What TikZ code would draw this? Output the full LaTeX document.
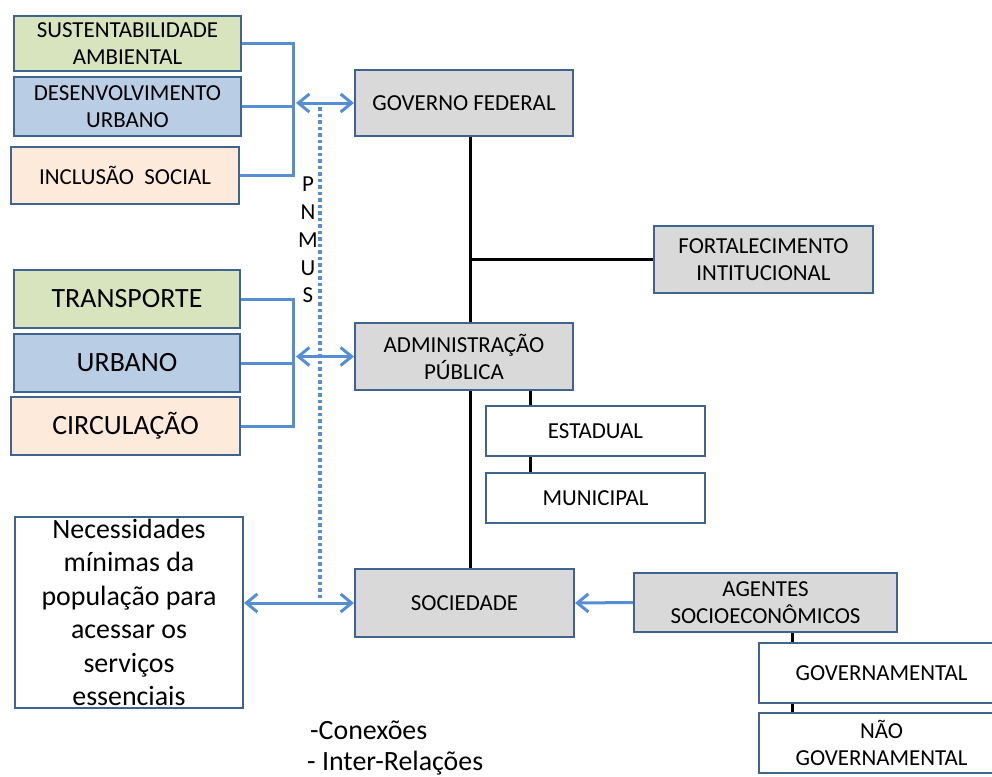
\documentclass[tikz,border=0pt]{standalone}
\usepackage{fontspec}
\setmainfont{Carlito}
\usetikzlibrary{arrows.meta}
\definecolor{edge}{HTML}{3F6491}
\definecolor{lnk}{HTML}{558ED5}
\definecolor{fgreen}{HTML}{D7E4BD}
\definecolor{fblue}{HTML}{B9CDE5}
\definecolor{fpeach}{HTML}{FDEADA}
\definecolor{fgray}{HTML}{D9D9D9}
\newcommand{\smtxt}{\fontsize{22.9}{27}\selectfont}
\newcommand{\lgtxt}{\fontsize{27.9}{33.5}\selectfont}
\newcommand{\axistxt}{\fontsize{22.9}{27.8}\selectfont}
\tikzset{
  box/.style={draw=edge, line width=2pt, inner sep=2pt, align=center, font=\smtxt},
  greenbox/.style={box, fill=fgreen},
  bluebox/.style={box, fill=fblue},
  peachbox/.style={box, fill=fpeach},
  graybox/.style={box, fill=fgray},
  whitebox/.style={box, fill=white},
  link/.style={draw=lnk, line width=3pt},
  twoway/.style={link, {Straight Barb[length=11pt, width=18pt]}-{Straight Barb[length=11pt, width=18pt]}},
  oneway/.style={link, -{Straight Barb[length=11pt, width=18pt]}},
  dots/.style={draw=lnk, line width=3.5pt, dash pattern=on 3.5pt off 3pt},
  trunk/.style={draw=black, line width=3pt},
}
\begin{document}
\begin{tikzpicture}[x=1pt, y=-1pt]
  \useasboundingbox (0,0) rectangle (992,776);
  \begin{scope}
  \clip (0,0) rectangle (992,776);

  % policy themes
  \node[greenbox, minimum width=227pt, minimum height=55pt] (sus) at (127.5,43.5) {SUSTENTABILIDADE\\AMBIENTAL};
  \node[bluebox, minimum width=227pt, minimum height=59pt] (des) at (127.5,106.5) {DESENVOLVIMENTO\\URBANO};
  \node[peachbox, minimum width=228pt, minimum height=57pt] (inc) at (125,175.5) {INCLUSÃO~ SOCIAL};

  % mobility themes
  \node[greenbox, minimum width=226pt, minimum height=58pt, font=\lgtxt] (tra) at (127,299) {TRANSPORTE};
  \node[bluebox, minimum width=226pt, minimum height=58pt, font=\lgtxt] (urb) at (127,363) {URBANO};
  \node[peachbox, minimum width=229pt, minimum height=58pt, font=\lgtxt] (cir) at (125.5,426) {CIRCULAÇÃO};

  % population needs
  \node[whitebox, minimum width=228pt, minimum height=189pt, font=\lgtxt] (nec) at (129,612.5)
    {Necessidades\\mínimas da\\população para\\acessar os\\serviços\\essenciais};

  % central column
  \node[graybox, minimum width=218pt, minimum height=66pt] (gov) at (464,103) {GOVERNO FEDERAL};
  \node[graybox, minimum width=219pt, minimum height=67pt] (fort) at (763.5,259.5) {FORTALECIMENTO\\INTITUCIONAL};
  \node[graybox, minimum width=218pt, minimum height=67pt] (adm) at (464,356.5) {ADMINISTRAÇÃO\\PÚBLICA};
  \node[whitebox, minimum width=219pt, minimum height=50pt] (est) at (595.5,431) {ESTADUAL};
  \node[whitebox, minimum width=219pt, minimum height=50pt] (mun) at (595.5,498) {MUNICIPAL};
  \node[graybox, minimum width=219pt, minimum height=68pt] (soc) at (464.5,603) {SOCIEDADE};
  \node[graybox, minimum width=263pt, minimum height=59pt] (age) at (765.5,602.5) {AGENTES\\SOCIOECONÔMICOS};
  \node[whitebox, minimum width=245pt, minimum height=60pt] (gvt) at (881.5,673) {GOVERNAMENTAL};
  \node[whitebox, minimum width=245pt, minimum height=60pt] (nao) at (881.5,743) {NÃO\\GOVERNAMENTAL};

  % reference coordinates for the vertical lines
  \coordinate (j1) at (293,103);
  \coordinate (j2) at (293,357);
  \coordinate (tk) at (470,0);
  \coordinate (ek) at (530,0);
  \coordinate (gk) at (792,0);
  \coordinate (pt) at (320,107);
  \coordinate (pb) at (320,598);

  % brackets gathering the themes
  \draw[link] (sus.east) -| (j1) |- (inc.east);
  \draw[link] (des.east) -- (des.east -| j1);
  \draw[twoway] ([xshift=3pt]gov.west -| j1) -- (gov.west);

  \draw[link] (tra.east) -| (j2) |- (cir.east);
  \draw[link] (urb.east) -- (urb.east -| j2);
  \draw[twoway] ([xshift=3pt]adm.west -| j2) -- (adm.west);

  % PNMUS axis
  \draw[dots] (pt) -- (pb);
  \node[align=center, inner sep=0pt, font=\axistxt] (pnmus) at (308,240) {P\\N\\M\\U\\S};

  % hierarchy trunk
  \draw[trunk] (gov.south -| tk) -- (adm.north -| tk);
  \draw[trunk] (adm.south -| tk) -- (soc.north -| tk);
  \draw[trunk] (fort.west -| tk) -- (fort.west);
  \draw[trunk] (adm.south -| ek) -- (est.north -| ek);
  \draw[trunk] (est.south -| ek) -- (mun.north -| ek);
  \draw[trunk] (age.south -| gk) -- (gvt.north -| gk);
  \draw[trunk] (gvt.south -| gk) -- (nao.north -| gk);

  % society links
  \draw[twoway] (nec.east |- soc.west) -- (soc.west);
  \draw[oneway] (age.west) -- (soc.east);

  % notes
  \node[font=\lgtxt, anchor=base west, inner sep=0pt] (conx) at (310,739) {-Conexões};
  \node[font=\lgtxt, anchor=base west, inner sep=0pt] (intr) at (307,770) {- Inter-Relações};
  \end{scope}
\end{tikzpicture}
\end{document}
